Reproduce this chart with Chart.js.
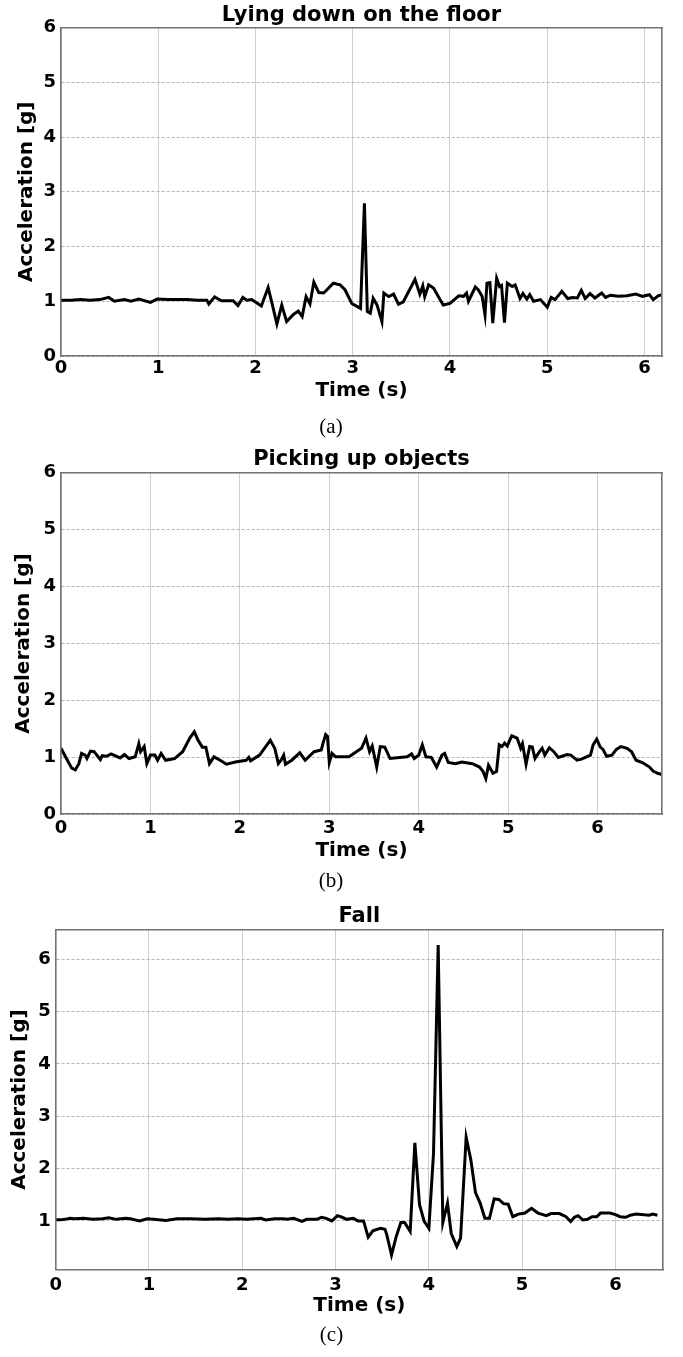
<!DOCTYPE html>
<html>
<head>
<meta charset="utf-8">
<script src="https://cdn.jsdelivr.net/npm/chart.js@4/dist/chart.umd.min.js"></script>
<style>
  html, body { margin: 0; padding: 0; background: #fff; }
  body { width: 683px; height: 1357px; position: relative; overflow: hidden; }
  canvas { position: absolute; left: 0; }
</style>
</head>
<body>
<canvas id="chartA"></canvas>
<canvas id="chartB"></canvas>
<canvas id="chartC"></canvas>
<script>
// (a) Lying down on the floor
const TIME_A = [0, 0.1, 0.2, 0.3, 0.4, 0.49, 0.55, 0.65, 0.72, 0.8, 0.92, 0.99, 1.1, 1.2, 1.3, 1.4, 1.5,
  1.52, 1.58, 1.65, 1.77, 1.82, 1.87, 1.91, 1.96, 2.06, 2.13, 2.17, 2.22, 2.27, 2.32, 2.39, 2.44, 2.48,
  2.52, 2.56, 2.6, 2.65, 2.7, 2.73, 2.8, 2.87, 2.92, 2.99, 3.08, 3.12, 3.15, 3.18, 3.21, 3.25, 3.3, 3.32,
  3.37, 3.42, 3.47, 3.52, 3.64, 3.69, 3.72, 3.74, 3.78, 3.83, 3.93, 4.0, 4.09, 4.14, 4.17, 4.19, 4.26,
  4.29, 4.33, 4.36, 4.38, 4.41, 4.44, 4.48, 4.51, 4.53, 4.56, 4.59, 4.64, 4.67, 4.72, 4.75, 4.79, 4.82,
  4.86, 4.93, 5.0, 5.04, 5.08, 5.15, 5.21, 5.26, 5.31, 5.35, 5.39, 5.44, 5.49, 5.56, 5.6, 5.65, 5.73,
  5.82, 5.91, 5.98, 6.05, 6.09, 6.14, 6.18];
const ACC_A = [1.02, 1.02, 1.03, 1.02, 1.03, 1.07, 1.0, 1.03, 1.0, 1.04, 0.98, 1.04, 1.03, 1.03, 1.03, 1.02, 1.02,
  0.95, 1.08, 1.01, 1.01, 0.92, 1.07, 1.02, 1.03, 0.915, 1.25, 0.96, 0.585, 0.93, 0.63, 0.76, 0.82, 0.72,
  1.085, 0.95, 1.35, 1.16, 1.15, 1.2, 1.33, 1.3, 1.21, 0.96, 0.87, 2.79, 0.81, 0.78, 1.055, 0.93, 0.63, 1.15,
  1.085, 1.13, 0.945, 0.99, 1.4, 1.13, 1.28, 1.085, 1.3, 1.24, 0.93, 0.96, 1.1, 1.09, 1.15, 1.0, 1.26,
  1.21, 1.09, 0.75, 1.33, 1.34, 0.6, 1.42, 1.27, 1.29, 0.61, 1.33, 1.27, 1.3, 1.05, 1.14, 1.04, 1.12,
  1.0, 1.03, 0.89, 1.07, 1.03, 1.18, 1.05, 1.07, 1.06, 1.2, 1.05, 1.14, 1.06, 1.15, 1.07, 1.11, 1.09,
  1.1, 1.13, 1.09, 1.12, 1.03, 1.1, 1.12];

// (b) Picking up objects
const TIME_B = [0, 0.05, 0.12, 0.16, 0.2, 0.23, 0.27, 0.29, 0.33, 0.37, 0.44, 0.46, 0.51, 0.56, 0.66, 0.71,
  0.76, 0.83, 0.87, 0.89, 0.93, 0.96, 1.0, 1.05, 1.08, 1.12, 1.17, 1.27, 1.36, 1.44, 1.49, 1.53, 1.58,
  1.62, 1.66, 1.71, 1.78, 1.85, 1.95, 2.07, 2.1, 2.12, 2.22, 2.34, 2.39, 2.43, 2.46, 2.49, 2.51, 2.58,
  2.67, 2.73, 2.83, 2.91, 2.93, 2.96, 2.98, 3.0, 3.03, 3.07, 3.22, 3.36, 3.41, 3.45, 3.48, 3.53, 3.57,
  3.62, 3.68, 3.87, 3.92, 3.95, 4.0, 4.04, 4.08, 4.14, 4.2, 4.26, 4.29, 4.33, 4.41, 4.48, 4.6, 4.68,
  4.72, 4.75, 4.78, 4.83, 4.87, 4.9, 4.93, 4.96, 4.99, 5.04, 5.1, 5.14, 5.16, 5.2, 5.24, 5.27, 5.3,
  5.35, 5.38, 5.41, 5.46, 5.51, 5.56, 5.66, 5.7, 5.77, 5.82, 5.92, 5.95, 5.99, 6.03, 6.06, 6.1, 6.16,
  6.21, 6.26, 6.33, 6.38, 6.43, 6.5, 6.58, 6.62, 6.67, 6.72];
const ACC_B = [1.16, 1.01, 0.81, 0.78, 0.89, 1.07, 1.04, 0.98, 1.11, 1.1, 0.96, 1.03, 1.02, 1.06, 0.99, 1.05,
  0.98, 1.01, 1.24, 1.1, 1.19, 0.89, 1.04, 1.04, 0.95, 1.07, 0.95, 0.98, 1.1, 1.34, 1.45, 1.31, 1.18,
  1.18, 0.89, 1.01, 0.95, 0.88, 0.92, 0.95, 1.0, 0.94, 1.04, 1.3, 1.16, 0.89, 0.95, 1.04, 0.88, 0.95,
  1.08, 0.95, 1.1, 1.13, 1.25, 1.4, 1.37, 0.91, 1.07, 1.01, 1.01, 1.16, 1.34, 1.1, 1.2, 0.83, 1.19,
  1.18, 0.98, 1.01, 1.06, 0.98, 1.04, 1.22, 1.01, 1.0, 0.83, 1.04, 1.07, 0.91, 0.89, 0.92, 0.89, 0.83,
  0.75, 0.63, 0.86, 0.72, 0.75, 1.22, 1.19, 1.25, 1.2, 1.38, 1.34, 1.16, 1.24, 0.88, 1.19, 1.18, 0.98,
  1.1, 1.16, 1.04, 1.17, 1.1, 1.0, 1.05, 1.04, 0.95, 0.97, 1.04, 1.22, 1.32, 1.18, 1.14, 1.02, 1.04,
  1.14, 1.19, 1.16, 1.1, 0.95, 0.91, 0.83, 0.76, 0.72, 0.7];

// (c) Fall
const TIME_C = [0, 0.05, 0.1, 0.15, 0.2, 0.3, 0.4, 0.5, 0.57, 0.65, 0.75, 0.8, 0.9, 0.98, 1.05, 1.18, 1.3,
  1.45, 1.6, 1.74, 1.85, 1.95, 2.05, 2.2, 2.25, 2.35, 2.44, 2.48, 2.55, 2.64, 2.69, 2.8, 2.85, 2.9, 2.96,
  3.02, 3.07, 3.12, 3.19, 3.24, 3.3, 3.35, 3.4, 3.48, 3.53, 3.55, 3.6, 3.65, 3.7, 3.74, 3.8, 3.85, 3.9,
  3.95, 4.0, 4.05, 4.1, 4.15, 4.2, 4.24, 4.3, 4.34, 4.4, 4.45, 4.5, 4.55, 4.6, 4.65, 4.7, 4.75, 4.8,
  4.85, 4.9, 4.96, 5.03, 5.1, 5.17, 5.26, 5.31, 5.4, 5.47, 5.52, 5.56, 5.6, 5.65, 5.7, 5.75, 5.8, 5.84,
  5.94, 6.0, 6.05, 6.11, 6.16, 6.22, 6.36, 6.4, 6.45];
const ACC_C = [1.02, 1.02, 1.03, 1.05, 1.04, 1.05, 1.03, 1.04, 1.06, 1.03, 1.05, 1.04, 1.0, 1.04, 1.03, 1.01, 1.04,
  1.04, 1.03, 1.04, 1.03, 1.04, 1.03, 1.05, 1.02, 1.04, 1.04, 1.03, 1.05, 0.99, 1.03, 1.03, 1.07, 1.05, 1.0,
  1.1, 1.07, 1.03, 1.05, 1.0, 1.0, 0.69, 0.81, 0.86, 0.84, 0.73, 0.35, 0.7, 0.97, 0.97, 0.8, 2.49, 1.31,
  0.99, 0.86, 2.29, 6.27, 0.97, 1.34, 0.76, 0.51, 0.67, 2.6, 2.17, 1.54, 1.34, 1.05, 1.05, 1.42, 1.41, 1.33,
  1.32, 1.08, 1.13, 1.15, 1.24, 1.15, 1.1, 1.14, 1.14, 1.08, 0.99, 1.07, 1.1, 1.02, 1.03, 1.08, 1.08, 1.15,
  1.15, 1.12, 1.08, 1.07, 1.11, 1.13, 1.11, 1.13, 1.11];

const TIME_TICKS = [0, 1, 2, 3, 4, 5, 6];
const ACC_TICKS_AB = [0, 1, 2, 3, 4, 5, 6];
const ACC_TICKS_C = [1, 2, 3, 4, 5, 6];

const FONT = "'DejaVu Sans', sans-serif";
const SERIF = "'Liberation Serif', 'DejaVu Serif', serif";
const FRAME = "#737373";

// page geometry for each panel (pixels)
const PANELS = [
  { id: "chartA", top: 0, height: 446, title: "Lying down on the floor", caption: "(a)",
    time: TIME_A, acc: ACC_A, xMax: 6.18, yMin: 0, yMax: 6, yTicks: ACC_TICKS_AB,
    left: 61, right: 662, bottom: 356, titlePad: { top: 3.5, bottom: 0 },
    xTickPad: 1.5, xAxisH: 47, capPadTop: 11.4, yTitlePad: 15 },
  { id: "chartB", top: 446, height: 449, title: "Picking up objects", caption: "(b)",
    time: TIME_B, acc: ACC_B, xMax: 6.72, yMin: 0, yMax: 6, yTicks: ACC_TICKS_AB,
    left: 61, right: 662, bottom: 814.3, titlePad: { top: 1.5, bottom: 1.3 },
    xTickPad: 3.5, xAxisH: 48.7, capPadTop: 5.4, yTitlePad: 12 },
  { id: "chartC", top: 895, height: 462, title: "Fall", caption: "(c)",
    time: TIME_C, acc: ACC_C, xMax: 6.51, yMin: 0.068, yMax: 6.568, yTicks: ACC_TICKS_C,
    left: 55.7, right: 663, bottom: 1269.7, titlePad: { top: 10, bottom: 0.5 },
    xTickPad: 4.5, xAxisH: 47.8, capPadTop: 4.9, yTitlePad: 8 },
];

const makeChart = (p) => {
  const canvas = document.getElementById(p.id);
  canvas.width = 683;
  canvas.height = p.height;
  canvas.style.top = p.top + "px";
  const capLine = 21 * 1.2;
  const capPadBottom = Math.max(p.height - (p.bottom - p.top) - p.xAxisH - p.capPadTop - capLine, 0);
  const points = p.time.map((t, i) => ({ x: t, y: p.acc[i] }));

  return new Chart(canvas, {
    type: "line",
    data: {
      datasets: [{
        data: points,
        borderColor: "#000",
        borderWidth: 3,
        pointRadius: 0,
        tension: 0,
        fill: false,
      }],
    },
    options: {
      responsive: false,
      animation: false,
      events: [],
      layout: { autoPadding: false, padding: { left: 0, right: 683 - p.right, top: 0, bottom: 0 } },
      plugins: {
        legend: { display: false },
        tooltip: { enabled: false },
        title: {
          display: true, fullSize: false, text: p.title, color: "#000", padding: p.titlePad,
          font: { family: FONT, size: 21, weight: "bold", lineHeight: 1.2 / 1.05 },
        },
        subtitle: {
          display: true, position: "bottom", text: p.caption, color: "#000",
          padding: { top: p.capPadTop, bottom: capPadBottom },
          font: { family: SERIF, size: 21, weight: "normal", lineHeight: 1.2 },
        },
      },
      scales: {
        x: {
          type: "linear", position: "bottom", min: 0, max: p.xMax,
          afterBuildTicks: (s) => { s.ticks = TIME_TICKS.map((v) => ({ value: v })); },
          afterFit: (s) => { s.height = p.xAxisH; },
          ticks: { color: "#000", padding: p.xTickPad, font: { family: FONT, size: 18, weight: "bold" } },
          grid: { color: "#cfcfcf", lineWidth: 1, drawTicks: false },
          border: { display: true, color: FRAME, width: 1.6, z: 1 },
          title: {
            display: true, text: "Time (s)", color: "#000", padding: { top: 0, bottom: 0 },
            font: { family: FONT, size: 20, weight: "bold", lineHeight: 1.2 },
          },
        },
        y: {
          type: "linear", position: "left", min: p.yMin, max: p.yMax,
          afterBuildTicks: (s) => { s.ticks = p.yTicks.map((v) => ({ value: v })); },
          afterFit: (s) => { s.width = p.left; },
          ticks: { color: "#000", padding: 5, font: { family: FONT, size: 18, weight: "bold" } },
          grid: { color: "#b4b4b4", lineWidth: 1, drawTicks: false },
          border: { display: true, color: FRAME, width: 1.6, dash: [3, 2], z: 1 },
          title: {
            display: true, text: "Acceleration [g]", color: "#000", padding: { top: p.yTitlePad, bottom: 0 },
            font: { family: FONT, size: 20, weight: "bold", lineHeight: 1.2 },
          },
        },
        // top and right frame lines
        x2: {
          type: "linear", position: "top", min: 0, max: p.xMax,
          afterFit: (s) => { s.height = 0; },
          ticks: { display: false },
          grid: { display: false, drawTicks: false },
          border: { display: true, color: FRAME, width: 1.6, z: 1 },
        },
        y2: {
          type: "linear", position: "right", min: p.yMin, max: p.yMax,
          afterFit: (s) => { s.width = 0; },
          ticks: { display: false },
          grid: { display: false, drawTicks: false },
          border: { display: true, color: FRAME, width: 1.6, z: 1 },
        },
      },
    },
  });
};

PANELS.forEach(makeChart);
</script>
</body>
</html>
